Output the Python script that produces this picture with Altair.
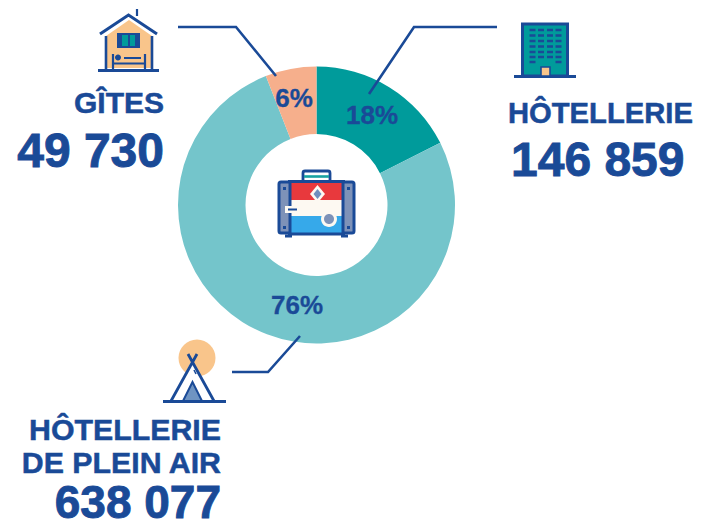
import altair as alt
import pandas as pd

categories = ["HÔTELLERIE", "HÔTELLERIE DE PLEIN AIR", "GÎTES"]
values = [146859, 638077, 49730]
percent_labels = ["18%", "76%", "6%"]
number_labels = ["146 859", "638 077", "49 730"]
colours = ["#009B9B", "#74C5CB", "#F6AF8C"]

NAVY = "#1A4A97"
FONT = "Liberation Sans"
W, H = 688, 513

df = pd.DataFrame({"cat": categories, "v": values, "o": [0, 1, 2]})

donut = alt.Chart(df).mark_arc(radius=138.5, radius2=71, stroke=None).encode(
    theta=alt.Theta("v:Q", stack=True, scale=alt.Scale(range=[0, 6.28318530718])),
    order=alt.Order("o:Q"),
    color=alt.Color("cat:N", legend=None, scale=alt.Scale(domain=categories, range=colours)),
    x=alt.value(316.5 - 8),
    y=alt.value(205 - 8),
)

base = alt.Chart(pd.DataFrame({"a": [0]}))


def shape(path, fill=None, stroke=None, sw=1.0):
    kw = {"shape": path, "size": 4, "filled": fill is not None, "opacity": 1}
    if fill is not None:
        kw["fill"] = fill
    if stroke is not None:
        kw["stroke"] = stroke
        kw["strokeWidth"] = sw
    else:
        kw["strokeWidth"] = 0
    return base.mark_point(**kw).encode(x=alt.value(-8), y=alt.value(-8))


def txt(s, x, y, size, align="right", sw=0.5):
    return base.mark_text(text=s, font=FONT, fontWeight="bold", fontSize=size, align=align,
                          baseline="alphabetic", color=NAVY, stroke=NAVY, strokeWidth=sw).encode(
        x=alt.value(x - 8), y=alt.value(y - 8))


layers = [donut]

# leader lines
LW = 2.6
layers += [
    shape("M178 27 L236 27 L276 76", stroke=NAVY, sw=LW),
    shape("M497 27 L414 27 L369 94", stroke=NAVY, sw=LW),
    shape("M232 372 L268 372 L300 336", stroke=NAVY, sw=LW),
]

# house icon
layers += [
    shape("M106 36 L129 20 L152 36 L152 68 L106 68 Z", fill="#F9C58B"),
    shape("M100 34 L128.5 15 L157 34", stroke=NAVY, sw=3),
    shape("M106 36 L106 70 M152 36 L152 70", stroke=NAVY, sw=2.6),
    shape("M98 70.5 L159 70.5", stroke=NAVY, sw=2.8),
    shape("M137 16 L137 9", stroke=NAVY, sw=2.2),
    shape("M117 33 L140 33 L140 48 L117 48 Z", fill=NAVY),
    shape("M122 35 L128 35 L128 46 L122 46 Z M130 35 L135 35 L135 46 L130 46 Z", fill="#009B9B"),
    shape("M113 54 L113 70 M145 54 L145 70 M113 63.5 L145 63.5 M124 58 L141 58", stroke=NAVY, sw=2.2),
    shape("M115 57.5 A3 3 0 1 1 121 57.5 A3 3 0 1 1 115 57.5 Z", fill=NAVY),
]

# hotel icon
win = "".join(
    f"M{x} {y} L{x + 6} {y} "
    for y in (30, 35.5, 41, 46.5, 52, 57, 62)
    for x in (529.5, 538, 547, 555.5)
    if not (y == 62 and x in (538, 547))
)
layers += [
    shape("M522.5 24 L567.5 24 L567.5 76 L522.5 76 Z", fill="#009B9B", stroke=NAVY, sw=3),
    shape(win, stroke=NAVY, sw=2.6),
    shape("M514 76.5 L576 76.5", stroke=NAVY, sw=3),
    shape("M541 67 L550 67 L550 76 L541 76 Z", fill="#F9C58B", stroke=NAVY, sw=1.6),
]

# tent icon
layers += [
    shape("M178.5 358 A18.5 18.5 0 1 1 215.5 358 A18.5 18.5 0 1 1 178.5 358 Z", fill="#F9C58B"),
    shape("M192 360 L171 401 L214 401 Z", fill="#FFFFFF"),
    shape("M197 354 L171 401 M188 354 L214 401", stroke=NAVY, sw=2.8),
    shape("M194 370 L196 374", stroke=NAVY, sw=1.6),
    shape("M192.5 382 L183 401 L202 401 Z", fill="#6F94C2", stroke=NAVY, sw=2),
    shape("M163 401.5 L226 401.5", stroke=NAVY, sw=2.8),
]

# suitcase icon
layers += [
    shape("M303 181 L303 173 Q303 171 305 171 L328 171 Q330 171 330 173 L330 181", stroke=NAVY, sw=2.8),
    shape("M304 176.5 L329 176.5", stroke="#17A2A2", sw=2.6),
    shape("M288 183 L345 183 L345 200 L288 200 Z", fill="#E8393D"),
    shape("M288 200 L345 200 L345 216 L288 216 Z", fill="#FDF9F2"),
    shape("M288 216 L345 216 L345 233 L288 233 Z", fill="#36A9EA"),
    shape("M279 184 Q279 182 281 182 L290 182 L290 233 L281 233 Q279 233 279 231 Z", fill="#7E92B8", stroke=NAVY, sw=3),
    shape("M343 182 L352 182 Q354 182 354 184 L354 231 Q354 233 352 233 L343 233 Z", fill="#7E92B8", stroke=NAVY, sw=3),
    shape("M288 181.5 L345 181.5 M288 234 L345 234 M285 236 L292 236 M341 236 L348 236", stroke=NAVY, sw=2.8),
    shape("M283 187 L286 187 L286 190 L283 190 Z M347 187 L350 187 L350 190 L347 190 Z M283 226 L286 226 L286 229 L283 229 Z M347 226 L350 226 L350 229 L347 229 Z", fill=NAVY),
    shape("M317.5 185 L325 194 L317.5 203 L310 194 Z", fill="#FDF9F2"),
    shape("M317.5 189 L321.5 194 L317.5 199 L313.5 194 Z", fill="#6F8FBE"),
    shape("M285 206 L298 206 L298 213 L285 213 Z", fill="#FDF9F2"),
    shape("M288 209.5 L297 209.5", stroke=NAVY, sw=2),
    shape("M321 219 A8 8 0 1 1 337 219 A8 8 0 1 1 321 219 Z", fill="#FDF9F2"),
    shape("M324 219 A5 5 0 1 1 334 219 A5 5 0 1 1 324 219 Z", fill="#7E92B8"),
]

# text
layers += [
    txt(percent_labels[0], 372, 124, 26, "center", 0.3),
    txt(percent_labels[2], 294, 107, 26, "center", 0.3),
    txt(percent_labels[1], 297, 314, 26, "center", 0.3),
    txt("GÎTES", 164, 113, 30),
    txt(number_labels[2], 164, 167, 48, "right", 0.9),
    txt("HÔTELLERIE", 508, 123, 29.2, "left"),
    txt(number_labels[0], 511, 176, 48, "left", 0.9),
    txt("HÔTELLERIE", 221, 440, 30.3),
    txt("DE PLEIN AIR", 221, 473, 30.3),
    txt(number_labels[1], 221, 518, 46, "right", 0.9),
]

chart = alt.layer(*layers).properties(
    width=W, height=H, padding=0, autosize=alt.AutoSizeParams(type="none"),
    background="#FFFFFF",
).configure_view(stroke=None)

chart.save("out.html", embed_options={"renderer": "svg", "actions": False})
